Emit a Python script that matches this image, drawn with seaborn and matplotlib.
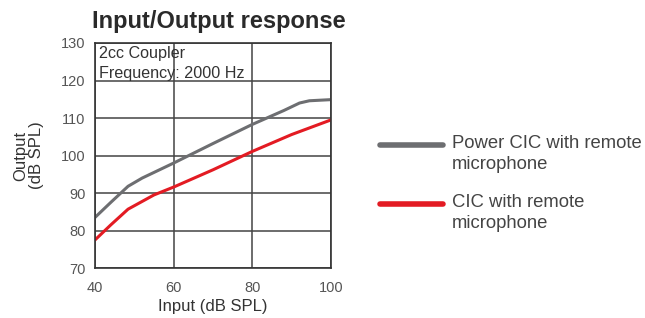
import pandas as pd
import matplotlib.pyplot as plt
import seaborn as sns

# values
power_input = [40, 44, 48.4, 52, 60, 70, 80, 88, 92, 94.5, 100]
power_output = [83.5, 87.5, 91.8, 94, 98, 103.2, 108.3, 112, 114, 114.6, 114.9]
cic_input = [40, 44, 48.4, 55, 60, 70, 80, 90, 100]
cic_output = [77.5, 81.5, 85.7, 89.5, 91.6, 96.2, 101.1, 105.6, 109.5]
series_names = ['Power CIC with remote\nmicrophone', 'CIC with remote\nmicrophone']
series_colors = ['#6d6e71', '#e31b23']
x_ticks = [40, 60, 80, 100]
y_ticks = [70, 80, 90, 100, 110, 120, 130]

df = pd.concat([
    pd.DataFrame({'input': power_input, 'output': power_output, 'series': series_names[0]}),
    pd.DataFrame({'input': cic_input, 'output': cic_output, 'series': series_names[1]}),
])

sns.set_style('white')
plt.rcParams['font.family'] = ['Liberation Sans', 'DejaVu Sans']

fig = plt.figure(figsize=(6.45, 3.18), dpi=100)
ax = fig.add_axes([0.1473, 0.157, 0.3659, 0.7078])

sns.lineplot(
    data=df, x='input', y='output', hue='series',
    palette=series_colors, linewidth=2.2, ax=ax, legend=False,
    sort=False
)

ax.set_xlim(40, 100)
ax.set_ylim(70, 130)
ax.set_xticks(x_ticks)
ax.set_yticks(y_ticks)
ax.tick_params(length=0, labelsize=10.5, labelcolor='#555555')
ax.tick_params(axis='x', pad=9)
ax.tick_params(axis='y', pad=7)
ax.grid(True, color='#444444', linewidth=1.1)
for s in ax.spines.values():
    s.set_color('#333333')
    s.set_linewidth(1.2)

ax.set_xlabel('Input (dB SPL)', fontsize=12, color='#333333', labelpad=3)
ax.set_ylabel('Output\n(dB SPL)', fontsize=12, color='#333333', labelpad=12,
              linespacing=1.1)
ax.text(0.015, 0.985, '2cc Coupler\nFrequency: 2000 Hz', transform=ax.transAxes,
        ha='left', va='top', fontsize=11.6, color='#333333', linespacing=1.4)

fig.text(0.143, 0.897, 'Input/Output response', fontsize=17, fontweight='bold',
         color='#2a2a2a', ha='left', va='bottom')

# legend drawn by hand so the swatch lines up with the first label line
legend_y = [145, 204]
for name, color, y in zip(series_names, series_colors, legend_y):
    yf = 1 - y / 318
    fig.add_artist(plt.Line2D([380 / 645, 443 / 645], [yf, yf], color=color,
                              linewidth=4, transform=fig.transFigure))
    fig.text(452 / 645, yf + 10 / 318, name, fontsize=13.3, color='#444444',
             ha='left', va='top', linespacing=1.3)

fig.savefig('out.png', dpi=100)
